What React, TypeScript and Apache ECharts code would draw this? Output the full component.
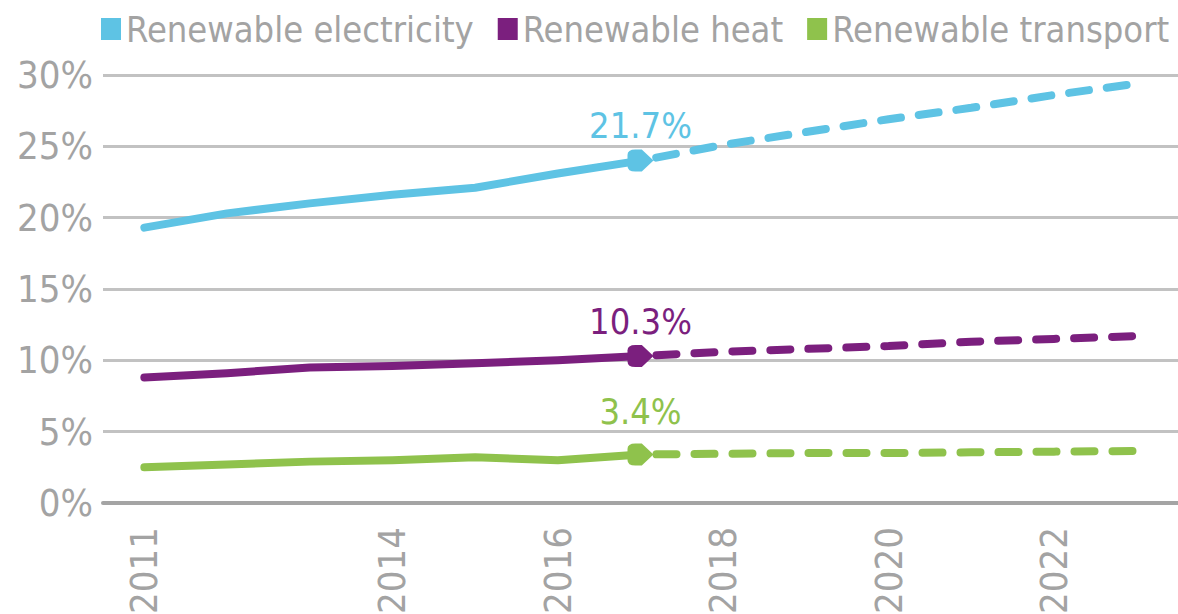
import React, { useEffect, useRef } from "react";
import * as echarts from "echarts";

const years = ["2011", "2012", "2013", "2014", "2015", "2016", "2017", "2018", "2019", "2020", "2021", "2022", "2023"];
const shownYears = ["2011", "2014", "2016", "2018", "2020", "2022"];
const seriesNames = ["Renewable electricity", "Renewable heat", "Renewable transport"];
const colors = ["#5ec3e4", "#7b1f7e", "#8fc24c"];
// observed 2011-2017
const electricityActual = [19.3, 20.3, 21.0, 21.6, 22.1, 23.1, 24.0];
const heatActual = [8.8, 9.1, 9.5, 9.6, 9.8, 10.0, 10.3];
const transportActual = [2.5, 2.7, 2.9, 3.0, 3.2, 3.0, 3.4];
// projected 2017-2023
const electricityProjected = [24.0, 25.1, 26.0, 26.9, 27.7, 28.6, 29.4];
const heatProjected = [10.3, 10.6, 10.8, 11.0, 11.3, 11.5, 11.7];
const transportProjected = [3.4, 3.45, 3.5, 3.5, 3.55, 3.6, 3.65];
const endLabels = ["21.7%", "10.3%", "3.4%"];
const yTicks = [0, 5, 10, 15, 20, 25, 30];

const FONT = "'DejaVu Sans Condensed', 'Liberation Sans Narrow', 'DejaVu Sans', sans-serif";
const MARKER = "path://M0,2.5 Q0,0 3,0 L5.5,0 L10,5 L5.5,10 L3,10 Q0,10 0,7.5 Z";

export default function App() {
  const ref = useRef<HTMLDivElement>(null);

  useEffect(() => {
    if (!ref.current) return;
    const chart = echarts.init(ref.current, undefined, { renderer: "svg" });
    const actuals = [electricityActual, heatActual, transportActual];
    const projs = [electricityProjected, heatProjected, transportProjected];
    const labelDist = [6, 6, 14];
    const nAct = electricityActual.length;
    const series: any[] = [];
    actuals.forEach((arr, i) => {
      const data: any[] = years.map((_, k) => (k < arr.length ? arr[k] : null));
      data[nAct - 1] = {
        value: arr[nAct - 1],
        symbol: MARKER,
        symbolSize: [26, 22],
        label: {
          show: true,
          position: "top",
          distance: labelDist[i],
          formatter: endLabels[i],
          color: colors[i],
          fontSize: 36,
          fontFamily: FONT,
        },
      };
      series.push({
        name: seriesNames[i],
        type: "line",
        data,
        symbol: "none",
        showSymbol: true,
        color: colors[i],
        lineStyle: { color: colors[i], width: 8, cap: "round", join: "round" },
        itemStyle: { color: colors[i] },
        z: 3,
      });
      const p = projs[i];
      const start = years.length - p.length;
      series.push({
        name: seriesNames[i],
        type: "line",
        data: years.map((_, k) => (k >= start ? p[k - start] : null)),
        symbol: "none",
        color: colors[i],
        lineStyle: { color: colors[i], width: 8, type: [20, 18], dashOffset: -16, cap: "round" },
        z: 2,
      });
    });

    chart.setOption({
      animation: false,
      textStyle: { fontFamily: FONT },
      legend: {
        data: seriesNames,
        left: 96,
        top: 6,
        itemWidth: 20,
        itemHeight: 22,
        itemGap: 24,
        icon: "rect",
        textStyle: { color: "#a3a3a3", fontSize: 36, fontFamily: FONT, padding: [0, 0, 0, 0] },
      },
      grid: { left: 103, right: 0, top: 75, bottom: 111, outerBoundsMode: "none" },
      xAxis: {
        type: "category",
        data: years,
        boundaryGap: true,
        axisLine: { lineStyle: { color: "#a4a4a4", width: 4 } },
        axisTick: { inside: true, length: 12, interval: 0, lineStyle: { color: "#b5b5b5", width: 2 } },
        axisLabel: {
          interval: (idx: number, val: string) => shownYears.includes(val),
          rotate: 90,
          margin: 24,
          color: "#a3a3a3",
          fontSize: 38,
          fontFamily: FONT,
        },
        splitLine: { show: false },
      },
      yAxis: {
        type: "value",
        min: yTicks[0],
        max: yTicks[yTicks.length - 1],
        interval: 5,
        axisLine: { show: false },
        axisTick: { show: false },
        axisLabel: { formatter: "{value}%", color: "#a3a3a3", fontSize: 38, margin: 10, fontFamily: FONT },
        splitLine: { lineStyle: { color: "#c2c2c2", width: 3 } },
      },
      series,
    });
    return () => chart.dispose();
  }, []);

  return <div ref={ref} style={{ position: "absolute", left: 0, top: 0, width: 1178, height: 614 }} />;
}
